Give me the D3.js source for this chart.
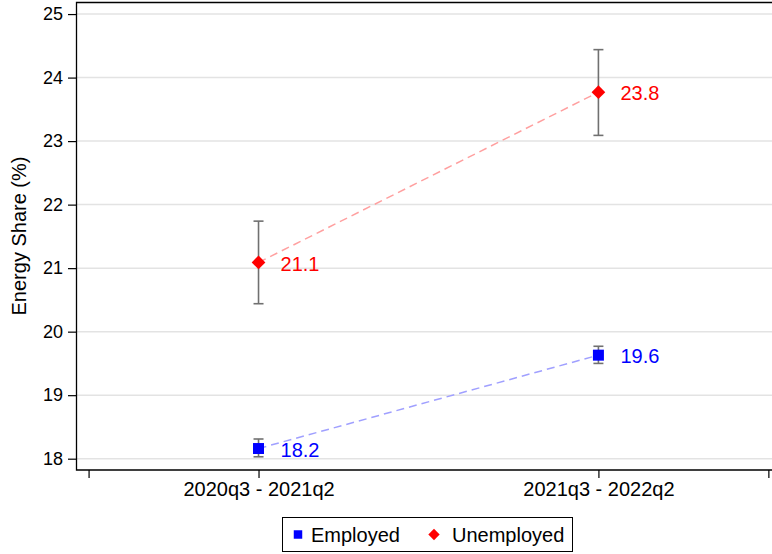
<!DOCTYPE html>
<html>
<head>
<meta charset="utf-8">
<script src="https://cdn.jsdelivr.net/npm/d3@7"></script>
<style>
  html, body { margin: 0; padding: 0; background: #fff; }
  svg { display: block; }
  text { font-family: "Liberation Sans", Arial, sans-serif; }
</style>
</head>
<body>
<script>
// Period categories on the x axis
const periods = ["2020q3 - 2021q2", "2021q3 - 2022q2"];
// Energy share point estimates (%) and 95% CI bounds per group
const employed = [18.16, 19.63];
const employedLo = [18.03, 19.50];
const employedHi = [18.31, 19.77];
const unemployed = [21.09, 23.77];
const unemployedLo = [20.44, 23.09];
const unemployedHi = [21.74, 24.44];
const yTicks = [18, 19, 20, 21, 22, 23, 24, 25];

const W = 772, H = 554;
const plot = { left: 76, right: 784, top: 2, bottom: 470 };
const FONT = "Liberation Sans, Arial, sans-serif";

const svg = d3.select("body").append("svg").attr("width", W).attr("height", H);

const x = d3.scaleLinear().domain([0.463, 2.546]).range([plot.left, plot.right]);
const y = d3.scaleLinear().domain([17.822, 25.19]).range([plot.bottom, plot.top]);

// Diamond marker: a square turned 45 degrees
const diamond = {
  draw(ctx, size) {
    const r = Math.sqrt(size / 2);
    ctx.moveTo(0, -r); ctx.lineTo(r, 0); ctx.lineTo(0, r); ctx.lineTo(-r, 0); ctx.closePath();
  }
};

// Gridlines
svg.append("g").selectAll("line").data(yTicks).join("line")
  .attr("x1", plot.left).attr("x2", plot.right)
  .attr("y1", d => y(d)).attr("y2", d => y(d))
  .attr("stroke", "#e3e3e3").attr("stroke-width", 1.5);

// Frame (left, top, bottom)
svg.append("path")
  .attr("d", `M${plot.right},${plot.top + 0.5}H${plot.left + 0.5}V${plot.bottom}H${plot.right}`)
  .attr("fill", "none").attr("stroke", "#000").attr("stroke-width", 1.3);

// Y axis
const yAxis = svg.append("g").attr("transform", `translate(${plot.left},0)`)
  .call(d3.axisLeft(y).tickValues(yTicks).tickSize(8).tickPadding(5).tickFormat(d3.format("d")));
yAxis.select(".domain").remove();
yAxis.selectAll("line").attr("stroke", "#000").attr("stroke-width", 1.2);
yAxis.selectAll("text").attr("font-size", 18).attr("fill", "#000").attr("font-family", FONT);

// X axis
const xAxis = svg.append("g").attr("transform", `translate(0,${plot.bottom})`)
  .call(d3.axisBottom(x).tickValues([0.5, 1, 2, 2.5]).tickSize(8).tickPadding(4)
    .tickFormat(d => (d === 1 || d === 2) ? periods[d - 1] : ""));
xAxis.select(".domain").remove();
xAxis.selectAll("line").attr("stroke", "#000").attr("stroke-width", 1.2);
xAxis.selectAll("text").attr("font-size", 20).attr("fill", "#000").attr("font-family", FONT);

// Y title
svg.append("text")
  .attr("transform", `translate(26,${(plot.top + plot.bottom) / 2}) rotate(-90)`)
  .attr("text-anchor", "middle").attr("font-size", 20).attr("fill", "#000")
  .text("Energy Share (%)");

const xs = [1, 2];
const series = [
  { vals: employed, lo: employedLo, hi: employedHi, color: "#0000ff", line: "#a0a0ff", shape: d3.symbolSquare, size: 121 },
  { vals: unemployed, lo: unemployedLo, hi: unemployedHi, color: "#ff0000", line: "#ffa0a0", shape: diamond, size: 94 }
];

series.forEach(s => {
  // Dashed connector
  svg.append("path")
    .attr("d", d3.line().x((d, i) => x(xs[i])).y(d => y(d))(s.vals))
    .attr("fill", "none").attr("stroke", s.line).attr("stroke-width", 1.5)
    .attr("stroke-dasharray", "8,5");
  // Error bars
  const g = svg.append("g").attr("stroke", "#707070").attr("stroke-width", 1.6);
  s.vals.forEach((v, i) => {
    const cx = x(xs[i]);
    g.append("line").attr("x1", cx).attr("x2", cx).attr("y1", y(s.lo[i])).attr("y2", y(s.hi[i]));
    g.append("line").attr("x1", cx - 5).attr("x2", cx + 5).attr("y1", y(s.lo[i])).attr("y2", y(s.lo[i]));
    g.append("line").attr("x1", cx - 5).attr("x2", cx + 5).attr("y1", y(s.hi[i])).attr("y2", y(s.hi[i]));
  });
  // Markers
  svg.append("g").selectAll("path").data(s.vals).join("path")
    .attr("transform", (d, i) => `translate(${x(xs[i])},${y(d)})`)
    .attr("d", d3.symbol().type(s.shape).size(s.size))
    .attr("fill", s.color);
  // Value labels
  svg.append("g").selectAll("text").data(s.vals).join("text")
    .attr("x", (d, i) => x(xs[i]) + 22).attr("y", d => y(d) + 1)
    .attr("dy", "0.36em").attr("font-size", 20).attr("fill", s.color)
    .text(d => d3.format(".1f")(d));
});

// Legend
const leg = svg.append("g");
leg.append("rect").attr("x", 282.5).attr("y", 517.5).attr("width", 290).attr("height", 34)
  .attr("fill", "#fff").attr("stroke", "#000").attr("stroke-width", 1);
leg.append("path").attr("transform", "translate(298,534.5)")
  .attr("d", d3.symbol().type(d3.symbolSquare).size(72)).attr("fill", "#0000ff");
leg.append("text").attr("x", 311).attr("y", 535).attr("dy", "0.36em")
  .attr("font-size", 20).attr("fill", "#000").text("Employed");
leg.append("path").attr("transform", "translate(434,534.5)")
  .attr("d", d3.symbol().type(diamond).size(64)).attr("fill", "#ff0000");
leg.append("text").attr("x", 452).attr("y", 535).attr("dy", "0.36em")
  .attr("font-size", 20).attr("fill", "#000").text("Unemployed");
</script>
</body>
</html>
